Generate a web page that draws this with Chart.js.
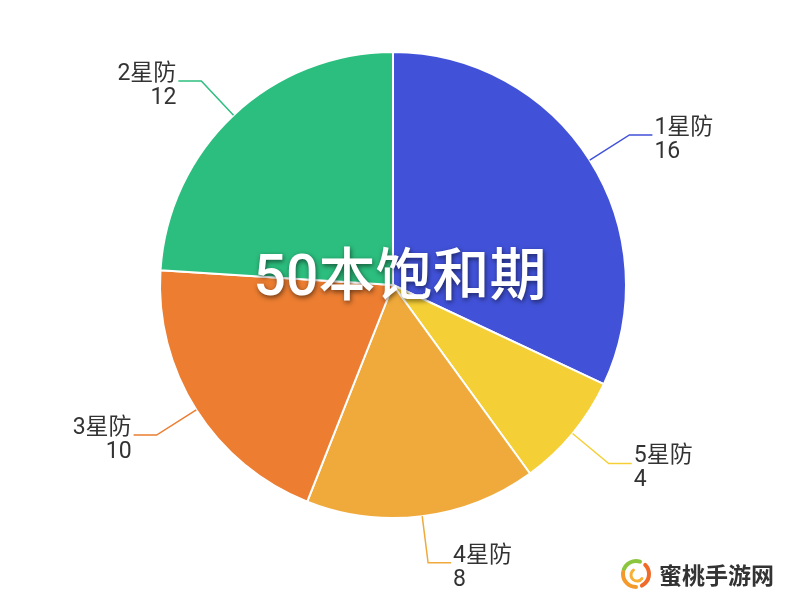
<!DOCTYPE html>
<html>
<head>
<meta charset="utf-8">
<script src="https://cdn.jsdelivr.net/npm/chart.js@4/dist/chart.umd.min.js"></script>
<style>
  html, body { margin: 0; padding: 0; background: #fff; }
  #wrap { width: 796px; height: 598px; }
</style>
</head>
<body>
<div id="wrap"><canvas id="pieChart" width="796" height="598"></canvas></div>
<script>
// data, clockwise from the top
var names  = ['1星防', '5星防', '4星防', '3星防', '2星防'];
var values = [16, 4, 8, 10, 12];
var colors = ['#4152d9', '#f5cf36', '#f0aa3c', '#ec7d31', '#2cbe7e'];
var title  = '50本饱和期';
var watermark = '蜜桃手游网';

var labelFont = '23px Roboto, "Noto Sans CJK SC", sans-serif';

// leader lines + two-line labels outside each slice
var outLabels = {
    id: 'outLabels',
    afterDatasetsDraw: function(chart) {
        var ctx = chart.ctx;
        var meta = chart.getDatasetMeta(0);
        meta.data.forEach(function(arc, i) {
            var p = arc.getProps(['x', 'y', 'startAngle', 'endAngle', 'outerRadius'], true);
            var mid = (p.startAngle + p.endAngle) / 2;
            var r = p.outerRadius;
            var sx = p.x + Math.cos(mid) * r, sy = p.y + Math.sin(mid) * r;
            var ex = p.x + Math.cos(mid) * (r + 47), ey = p.y + Math.sin(mid) * (r + 47);
            var right = Math.cos(mid) >= 0;
            var hx = ex + (right ? 23 : -23);

            ctx.save();
            ctx.strokeStyle = colors[i];
            ctx.lineWidth = 1.5;
            ctx.beginPath();
            ctx.moveTo(sx, sy);
            ctx.lineTo(ex, ey);
            ctx.lineTo(hx, ey);
            ctx.stroke();

            ctx.fillStyle = '#333333';
            ctx.font = labelFont;
            ctx.textBaseline = 'alphabetic';
            ctx.textAlign = right ? 'left' : 'right';
            var tx = hx + (right ? 2 : -2);
            ctx.fillText(names[i], tx, ey - 1);
            ctx.fillText(String(values[i]), tx, ey + 23);
            ctx.restore();
        });
    }
};

// big title over the pie + corner watermark
var overlay = {
    id: 'overlay',
    afterDraw: function(chart) {
        var ctx = chart.ctx;
        ctx.save();
        ctx.font = '500 57px Roboto, "Noto Sans CJK SC", sans-serif';
        ctx.textAlign = 'center';
        ctx.textBaseline = 'middle';
        ctx.shadowColor = 'rgba(0,0,0,0.55)';
        ctx.shadowBlur = 5;
        ctx.shadowOffsetX = 1;
        ctx.shadowOffsetY = 2;
        ctx.fillStyle = '#ffffff';
        ctx.fillText(title, 400, 281);
        ctx.restore();

        // watermark logo (rough swirl)
        ctx.save();
        ctx.lineCap = 'round';
        var cx = 636, cy = 574;
        ctx.lineWidth = 4;
        ctx.strokeStyle = '#8cc63f';
        ctx.beginPath(); ctx.arc(cx, cy, 13, Math.PI * 1.1, Math.PI * 1.6); ctx.stroke();
        ctx.strokeStyle = '#f39a2b';
        ctx.beginPath(); ctx.arc(cx, cy, 13, Math.PI * 0.5, Math.PI * 1.05); ctx.stroke();
        ctx.strokeStyle = '#f06a2a';
        ctx.beginPath(); ctx.arc(cx, cy, 13, Math.PI * 1.75, Math.PI * 2.35); ctx.stroke();
        ctx.lineWidth = 3;
        ctx.strokeStyle = '#f7b035';
        ctx.beginPath(); ctx.arc(cx + 1, cy + 1, 6, Math.PI * 0.2, Math.PI * 1.3); ctx.stroke();

        ctx.fillStyle = '#333333';
        ctx.font = 'bold 23px "Noto Sans CJK SC", sans-serif';
        ctx.textAlign = 'left';
        ctx.textBaseline = 'middle';
        ctx.fillText(watermark, 659, 575);
        ctx.restore();
    }
};

var pieChartCanvas = document.getElementById('pieChart').getContext('2d');
new Chart(pieChartCanvas, {
    type: 'pie',
    data: {
        labels: names,
        datasets: [{
            data: values,
            backgroundColor: colors,
            borderColor: '#ffffff',
            borderWidth: 2
        }]
    },
    options: {
        responsive: false,
        animation: false,
        layout: { padding: { top: 51, bottom: 79, left: 159, right: 169 } },
        plugins: {
            legend: { display: false },
            tooltip: { enabled: false }
        }
    },
    plugins: [outLabels, overlay]
});
</script>
</body>
</html>
